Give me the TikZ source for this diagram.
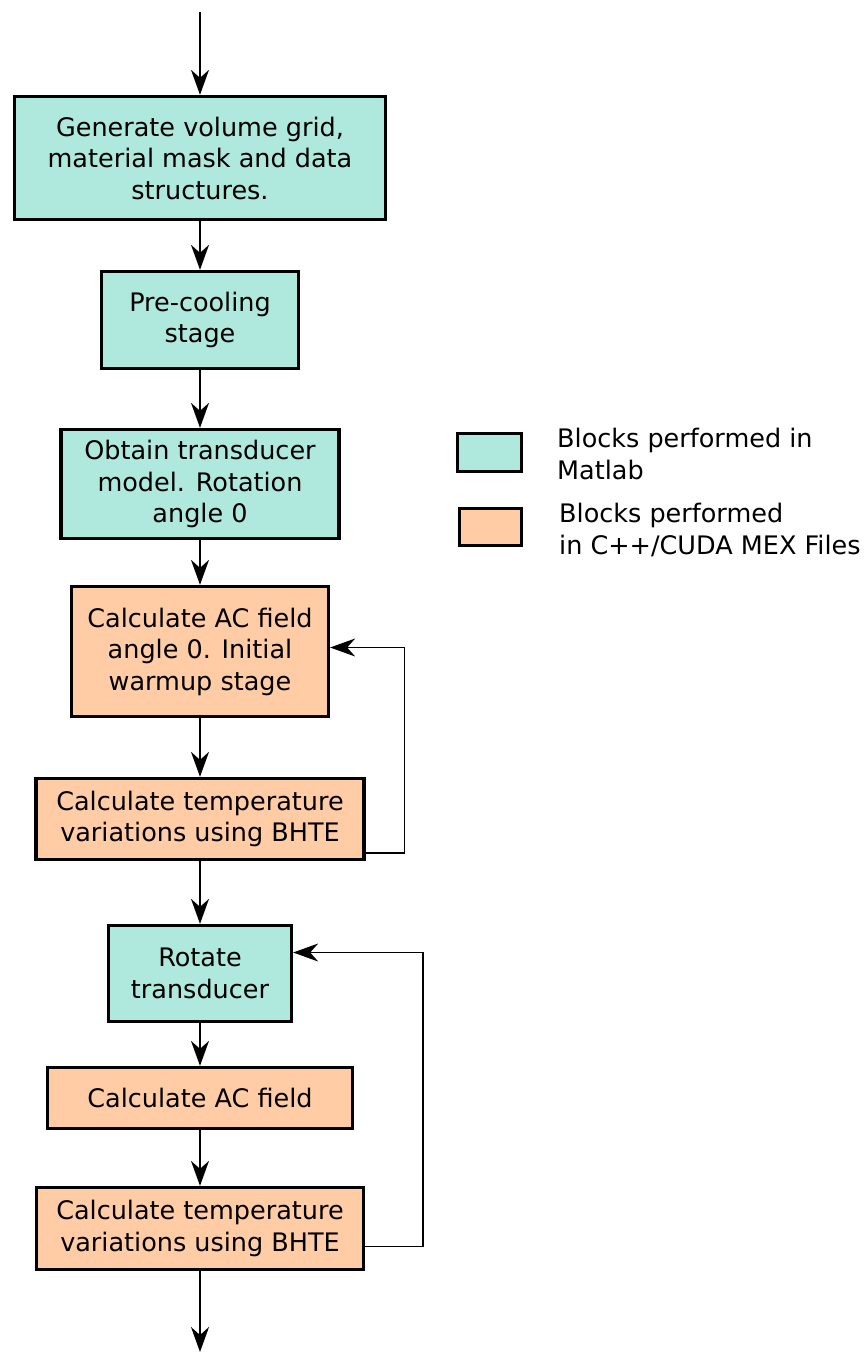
\documentclass[tikz,border=0pt]{standalone}
\usepackage{fontspec}
\setmainfont{DejaVu Sans}
\usetikzlibrary{arrows.meta}

\definecolor{matlabfill}{RGB}{175,232,220}
\definecolor{mexfill}{RGB}{255,204,166}

\begin{document}
\begin{tikzpicture}[x=1pt, y=-1pt,
  every node/.style={font=\fontsize{25.5}{31.5}\selectfont},
  block/.style={draw=black, line width=3.3pt, align=center, inner sep=0pt},
  matlab/.style={block, fill=matlabfill},
  mex/.style={block, fill=mexfill},
  arr/.style={line width=1.5pt, -{Stealth[length=25pt, width=18pt, inset=8pt]}}]

\useasboundingbox (0,0) rectangle (866,1352);

%% Start / end
\coordinate (start) at (200,12);
\coordinate (stop)  at (200,1352);

%% Blocks in Matlab and MEX files
\node[matlab, minimum width=371, minimum height=123] (grid) at (200,158)
  {Generate volume grid,\\material mask and data\\structures.};
\node[matlab, minimum width=197, minimum height=97] (precool) at (200,320)
  {Pre-cooling\\stage};
\node[matlab, minimum width=278, minimum height=109] (model) at (200,484)
  {Obtain transducer\\model. Rotation\\angle 0};
\node[mex, minimum width=257, minimum height=130] (acinit) at (200,651.5)
  {Calculate AC field\\angle 0. Initial\\warmup stage};
\node[mex, minimum width=328, minimum height=81] (bhteinit) at (200,819)
  {Calculate temperature\\variations using BHTE};
\node[matlab, minimum width=183, minimum height=96] (rotate) at (200,973.5)
  {Rotate\\transducer};
\node[mex, minimum width=305, minimum height=61] (acfield) at (200,1098)
  {Calculate AC field};
\node[mex, minimum width=327, minimum height=82] (bhte) at (200,1228.5)
  {Calculate temperature\\variations using BHTE};

%% Flow
\draw[arr] (start) -- (grid);
\draw[arr] (grid) -- (precool);
\draw[arr] (precool) -- (model);
\draw[arr] (model) -- (acinit);
\draw[arr] (acinit) -- (bhteinit);
\draw[arr] (bhteinit) -- (rotate);
\draw[arr] (rotate) -- (acfield);
\draw[arr] (acfield) -- (bhte);
\draw[arr] (bhte) -- (stop);

%% Feedback loops
\draw[arr] ([yshift=-34pt]bhteinit.east) -- ++(39,0) |- ([yshift=4pt]acinit.east);
\draw[arr] ([yshift=-18pt]bhte.east) -- ++(58,0) |- ([yshift=21pt]rotate.east);

%% Legend
\node[matlab, minimum width=64, minimum height=38] (legmatlab) at (489.5,452.5) {};
\node[mex, minimum width=62, minimum height=37] (legmex) at (490.5,527) {};
\node[anchor=west, align=left, inner sep=0pt] (txtmatlab) at (557,454)
  {Blocks performed in\\Matlab};
\node[anchor=west, align=left, inner sep=0pt] (txtmex) at (559,530)
  {Blocks performed\\in C++/CUDA MEX Files};

\end{tikzpicture}
\end{document}
